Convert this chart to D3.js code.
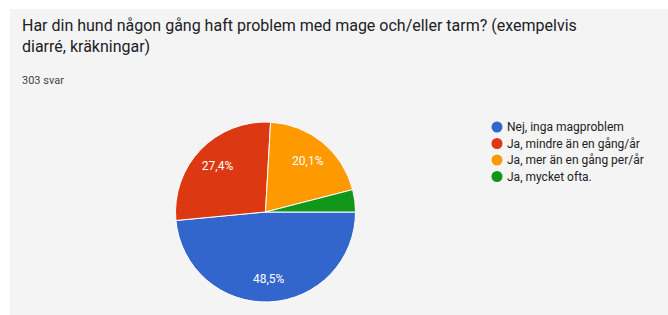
<!DOCTYPE html>
<html>
<head>
<meta charset="utf-8">
<script src="https://cdn.jsdelivr.net/npm/d3@7"></script>
<style>
  body { margin: 0; background: #ffffff; }
  svg { display: block; font-family: Roboto, "Noto Sans", Arial, sans-serif; }
</style>
</head>
<body>
<svg id="chart" width="668" height="315"></svg>
<script>
// survey answers
const categories = ["Nej, inga magproblem", "Ja, mindre än en gång/år", "Ja, mer än en gång per/år", "Ja, mycket ofta."]
const shares = [48.5, 27.4, 20.1, 4.0]
const labels = ["48,5%", "27,4%", "20,1%", ""]
const colors = ["#3366cc", "#dc3912", "#ff9900", "#109618"]

const titleLines = ["Har din hund någon gång haft problem med mage och/eller tarm? (exempelvis", "diarré, kräkningar)"]
const subtitle = "303 svar"

const width = 668, height = 315
const svg = d3.select('#chart')

// grey card
svg.append('rect')
    .attr('x', 10).attr('y', 9)
    .attr('width', width - 10).attr('height', height - 9)
    .attr('fill', '#f4f4f4')

svg.append('g')
    .selectAll('text')
    .data(titleLines)
    .enter()
    .append('text')
    .attr('x', 22)
    .attr('y', (d, i) => 31 + i * 21)
    .attr('font-size', 16)
    .attr('fill', '#202124')
    .text(d => d)

svg.append('text')
    .attr('x', 22).attr('y', 84)
    .attr('font-size', 11)
    .attr('fill', '#444')
    .text(subtitle)

const cx = 265.5, cy = 212, r = 90

const pie = d3.pie().sort(null).startAngle(Math.PI / 2).endAngle(Math.PI / 2 + 2 * Math.PI)
const arcs = pie(shares)
const arc = d3.arc().innerRadius(0).outerRadius(r)
const labelArc = d3.arc().innerRadius(r * 0.74).outerRadius(r * 0.74)

const g = svg.append('g').attr('transform', `translate(${cx},${cy})`)

g.selectAll('path')
    .data(arcs)
    .enter()
    .append('path')
    .attr('d', arc)
    .attr('fill', (d, i) => colors[i])
    .attr('stroke', '#ffffff')
    .attr('stroke-width', 1)

g.selectAll('text')
    .data(arcs)
    .enter()
    .append('text')
    .attr('transform', d => `translate(${labelArc.centroid(d)})`)
    .attr('text-anchor', 'middle')
    .attr('dy', '0.35em')
    .attr('font-size', 12)
    .attr('fill', '#ffffff')
    .text((d, i) => labels[i])

// legend
const legend = svg.append('g').attr('transform', 'translate(497,127)')
const rows = legend.selectAll('g')
    .data(categories)
    .enter()
    .append('g')
    .attr('transform', (d, i) => `translate(0,${i * 16.5})`)

rows.append('circle')
    .attr('r', 5.5)
    .attr('fill', (d, i) => colors[i])

rows.append('text')
    .attr('x', 10)
    .attr('dy', '0.35em')
    .attr('font-size', 12)
    .attr('fill', '#222')
    .text(d => d)
</script>
</body>
</html>
